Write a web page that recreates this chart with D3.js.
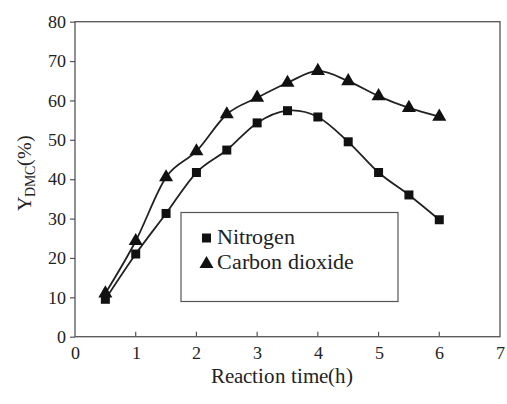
<!DOCTYPE html>
<html><head><meta charset="utf-8">
<script src="https://cdn.jsdelivr.net/npm/d3@7"></script>
<style>
@font-face{font-family:"RefSerif";src:local("Liberation Serif"),local("LiberationSerif"),local("Times New Roman");}
body{margin:0;background:#fff}
svg text, svg tspan{font-family:"RefSerif","Liberation Serif","Times New Roman",serif !important;}
</style>
</head><body><div id="chart"></div>
<script>
const times = [0.5,1,1.5,2,2.5,3,3.5,4,4.5,5,5.5,6];
const nitrogen = [9.5,21,31.3,41.7,47.4,54.3,57.4,55.8,49.5,41.7,36,29.7];
const carbonDioxide = [11,24.3,40.5,47.1,56.5,60.7,64.5,67.5,64.9,61.1,58.1,55.9];
const xTicks = [0,1,2,3,4,5,6,7];
const yTicks = [0,10,20,30,40,50,60,70,80];
const seriesNames = ["Nitrogen","Carbon dioxide"];

const FONT = "Liberation Serif";
const ink = "#222";
const svg = d3.select("#chart").append("svg").attr("width",507).attr("height",404)
  .style("display","block").attr("font-family",FONT);
const x = d3.scaleLinear().domain([0,7]).range([75,500]);
const y = d3.scaleLinear().domain([0,80]).range([336.7,21.7]);

// frame
svg.append("rect").attr("x",75).attr("y",21.7).attr("width",425).attr("height",315)
  .attr("fill","none").attr("stroke","#555").attr("stroke-width",1.3);

// y axis
const ya = svg.append("g").attr("transform","translate(75,0)")
  .call(d3.axisLeft(y).tickValues(yTicks).tickSize(5).tickPadding(4).tickFormat(d3.format("d")))
  .attr("font-family",FONT).attr("font-size",18);
ya.select(".domain").remove();
ya.selectAll("line").attr("stroke","#555").attr("stroke-width",1.2);
ya.selectAll("text").attr("fill",ink);

// x axis (ticks inward)
const xa = svg.append("g").attr("transform","translate(0,336.7)")
  .call(d3.axisBottom(x).tickValues(xTicks).tickSize(0).tickPadding(10).tickFormat(d3.format("d")))
  .attr("font-family",FONT).attr("font-size",18);
xa.select(".domain").remove();
xa.selectAll("text").attr("fill",ink);
svg.append("g").selectAll("line").data(xTicks.slice(1,-1)).join("line")
  .attr("x1",d=>x(d)).attr("x2",d=>x(d)).attr("y1",336.7).attr("y2",331.7)
  .attr("stroke","#555").attr("stroke-width",1.2);

// titles
svg.append("text").attr("x",282).attr("y",383).attr("text-anchor","middle")
  .attr("font-size",21).attr("fill",ink).text("Reaction time(h)");
const yt = svg.append("text").attr("transform","translate(31,173) rotate(-90)")
  .attr("text-anchor","middle").attr("font-size",20).attr("fill",ink);
yt.append("tspan").text("Y");
yt.append("tspan").attr("font-size",14).attr("dy",4).text("DMC");
yt.append("tspan").attr("dy",-4).text("(%)");

// lines
const line = d3.line().x(d=>x(d[0])).y(d=>y(d[1])).curve(d3.curveCardinal.tension(0));
const nData = times.map((t,i)=>[t,nitrogen[i]]);
const cData = times.map((t,i)=>[t,carbonDioxide[i]]);
[nData,cData].forEach(dat=>{
  svg.append("path").datum(dat).attr("d",line).attr("fill","none")
    .attr("stroke",ink).attr("stroke-width",1.8);
});
const sq = d3.symbol().type(d3.symbolSquare).size(81);
const tri = d3.symbol().type(d3.symbolTriangle).size(85);
svg.append("g").selectAll("path").data(nData).join("path")
  .attr("d",sq).attr("transform",d=>`translate(${x(d[0])},${y(d[1])})`).attr("fill","#111");
svg.append("g").selectAll("path").data(cData).join("path")
  .attr("d",tri).attr("transform",d=>`translate(${x(d[0])},${y(d[1])})`).attr("fill","#111");

// legend
svg.append("rect").attr("x",181).attr("y",212.5).attr("width",217).attr("height",89)
  .attr("fill","#fff").attr("stroke","#555").attr("stroke-width",1.2);
svg.append("path").attr("d",sq).attr("transform","translate(206.5,238)").attr("fill","#111");
svg.append("path").attr("d",tri).attr("transform","translate(206.5,264)").attr("fill","#111");
svg.append("text").attr("x",216.5).attr("y",243.5).attr("font-size",21.5).attr("fill",ink).text(seriesNames[0]);
svg.append("text").attr("x",216.5).attr("y",269).attr("font-size",21.5).attr("fill",ink).text(seriesNames[1]);
</script></body></html>
